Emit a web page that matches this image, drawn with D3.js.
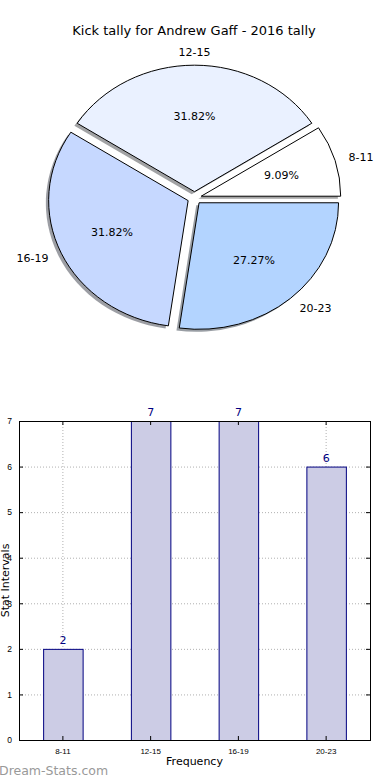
<!DOCTYPE html>
<html>
<head>
<meta charset="utf-8">
<script src="https://cdn.jsdelivr.net/npm/d3@7"></script>
<style>
  body { margin: 0; background: #fff; }
  svg { display: block; font-family: "DejaVu Sans", sans-serif; }
</style>
</head>
<body>
<div id="chart"></div>
<script>
// Data
var categories = ["8-11", "12-15", "16-19", "20-23"];
var counts = [2, 7, 7, 6];
var sliceColors = ["#ffffff", "#eaf1ff", "#c6d8ff", "#b3d4ff"];
var yTicks = [0, 1, 2, 3, 4, 5, 6, 7];

var svg = d3.select("#chart").append("svg")
    .attr("width", 390)
    .attr("height", 780);

// Title
svg.append("text")
    .attr("x", 194)
    .attr("y", 35)
    .attr("text-anchor", "middle")
    .style("font-size", "13px")
    .text("Kick tally for Andrew Gaff - 2016 tally");

// ---- Pie (elliptical, exploded, with shadow) ----
var cx = 194.5, cy = 198, rx = 139.5, ry = 126.5;
var explode = 0.05;

var pie = d3.pie().sort(null).value(function(d) { return d; });
var arcs = pie(counts);
var total = d3.sum(counts);

// d3.arc in unit space, mapped so angle runs counterclockwise from 3 o'clock
var arc = d3.arc().innerRadius(0).outerRadius(1);

function toScreen(a, r) {
  return [cx + rx * r * Math.cos(a), cy - ry * r * Math.sin(a)];
}

arcs.forEach(function(d, i) {
  var mid = (d.startAngle + d.endAngle) / 2;
  var off = toScreen(mid, explode);
  var g = svg.append("g");

  // shadow
  g.append("path")
      .attr("d", arc(d))
      .attr("transform", "matrix(0," + (-ry) + "," + (-rx) + ",0," + (off[0] - 0.02 * rx) + "," + (off[1] + 0.02 * ry) + ")")
      .attr("fill", d3.rgb(sliceColors[i]).darker(3.5))
      .attr("fill-opacity", 0.5);

  g.append("path")
      .attr("d", arc(d))
      .attr("transform", "matrix(0," + (-ry) + "," + (-rx) + ",0," + off[0] + "," + off[1] + ")")
      .attr("fill", sliceColors[i])
      .attr("stroke", "#000")
      .attr("stroke-width", 1)
      .attr("vector-effect", "non-scaling-stroke");

  // outer label
  var lp = toScreen(mid, explode + 1.1);
  svg.append("text")
      .attr("x", lp[0])
      .attr("y", lp[1])
      .attr("dy", "0.35em")
      .attr("text-anchor", Math.cos(mid) > 0.01 ? "start" : (Math.cos(mid) < -0.01 ? "end" : "middle"))
      .style("font-size", "11px")
      .text(categories[i]);

  // percentage label
  var pp = toScreen(mid, explode + 0.6);
  svg.append("text")
      .attr("x", pp[0])
      .attr("y", pp[1])
      .attr("dy", "0.35em")
      .attr("text-anchor", "middle")
      .style("font-size", "11px")
      .text((d.data / total * 100).toFixed(2) + "%");
});

// ---- Bar chart ----
var plotLeft = 19, plotRight = 370, plotTop = 421, plotBottom = 740;

var x = d3.scaleBand()
    .domain(categories)
    .range([plotLeft, plotRight])
    .paddingInner(0.55)
    .paddingOuter(0.275);

var y = d3.scaleLinear()
    .domain([0, 7])
    .range([plotBottom, plotTop]);

// grid
svg.append("g").selectAll("line")
    .data(yTicks)
  .enter().append("line")
    .attr("x1", plotLeft).attr("x2", plotRight)
    .attr("y1", function(d) { return y(d) + 0.5; })
    .attr("y2", function(d) { return y(d) + 0.5; })
    .attr("stroke", "#b0b0b0")
    .attr("stroke-dasharray", "1,2");

svg.append("g").selectAll("line")
    .data(categories)
  .enter().append("line")
    .attr("x1", function(d) { return x(d) + x.bandwidth() / 2; })
    .attr("x2", function(d) { return x(d) + x.bandwidth() / 2; })
    .attr("y1", plotTop).attr("y2", plotBottom)
    .attr("stroke", "#b0b0b0")
    .attr("stroke-dasharray", "1,2");

// bars
svg.selectAll(".bar")
    .data(counts)
  .enter().append("rect")
    .attr("class", "bar")
    .attr("x", function(d, i) { return x(categories[i]) + 0.5; })
    .attr("width", x.bandwidth())
    .attr("y", function(d) { return y(d) + 0.5; })
    .attr("height", function(d) { return plotBottom - y(d); })
    .attr("fill", "#ccccE5")
    .attr("stroke", "#000080")
    .attr("stroke-width", 1);

// value labels
svg.selectAll(".val")
    .data(counts)
  .enter().append("text")
    .attr("class", "val")
    .attr("x", function(d, i) { return x(categories[i]) + x.bandwidth() / 2; })
    .attr("y", function(d) { return y(d) - 5; })
    .attr("text-anchor", "middle")
    .attr("fill", "#000080")
    .style("font-size", "11px")
    .text(function(d) { return d; });

// axes (ticks inside, mirrored)
var xAxis = svg.append("g")
    .attr("transform", "translate(0," + plotBottom + ")")
    .call(d3.axisBottom(x).tickSizeInner(-4).tickSizeOuter(0).tickPadding(8));
xAxis.select(".domain").remove();
xAxis.selectAll("text").style("font-size", "8px").attr("fill", "#000");

svg.append("g")
    .attr("transform", "translate(0," + plotTop + ")")
    .call(d3.axisTop(x).tickSizeInner(-4).tickSizeOuter(0).tickFormat(""))
    .select(".domain").remove();

var yAxis = svg.append("g")
    .attr("transform", "translate(" + plotLeft + ",0)")
    .call(d3.axisLeft(y).tickValues(yTicks).tickFormat(d3.format("d")).tickSizeInner(-4).tickSizeOuter(0).tickPadding(7));
yAxis.select(".domain").remove();
yAxis.selectAll("text").style("font-size", "8.5px").attr("fill", "#000");

svg.append("g")
    .attr("transform", "translate(" + plotRight + ",0)")
    .call(d3.axisRight(y).tickValues(yTicks).tickSizeInner(-4).tickSizeOuter(0).tickFormat(""))
    .select(".domain").remove();

// frame
svg.append("rect")
    .attr("x", plotLeft + 0.5)
    .attr("y", plotTop + 0.5)
    .attr("width", plotRight - plotLeft)
    .attr("height", plotBottom - plotTop)
    .attr("fill", "none")
    .attr("stroke", "#000")
    .attr("stroke-width", 1);

// axis titles
svg.append("text")
    .attr("x", (plotLeft + plotRight) / 2)
    .attr("y", 765)
    .attr("text-anchor", "middle")
    .style("font-size", "11px")
    .text("Frequency");

svg.append("text")
    .attr("transform", "rotate(-90)")
    .attr("x", -(plotTop + plotBottom) / 2)
    .attr("y", 8.5)
    .attr("text-anchor", "middle")
    .style("font-size", "11px")
    .text("Stat Intervals");

// watermark
svg.append("text")
    .attr("x", -1)
    .attr("y", 775)
    .attr("fill", "#999999")
    .style("font-size", "12.5px")
    .text("Dream-Stats.com");
</script>
</body>
</html>
